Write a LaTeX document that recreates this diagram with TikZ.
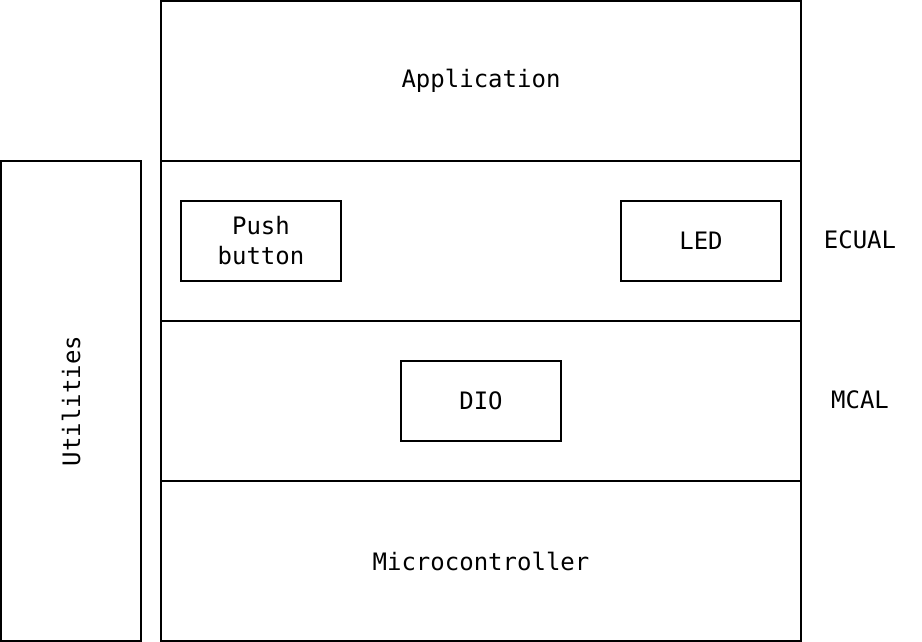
\documentclass[tikz,border=0pt]{standalone}
\usepackage{fontspec}
\setmonofont{DejaVu Sans Mono}
\usepackage{tikz}
\tikzset{
  every node/.style = {font=\ttfamily\fontsize{12}{15}\selectfont, inner sep=0pt, outer sep=0pt},
  layer/.style      = {draw, line width=1pt, minimum width=320pt, minimum height=80pt},
  module/.style     = {draw, line width=1pt, minimum width=80pt, minimum height=40pt, align=center},
  side/.style       = {draw, line width=1pt, minimum width=70pt, minimum height=240pt}
}

\begin{document}
\begin{tikzpicture}[x=0.5pt, y=-0.5pt]
  \useasboundingbox (0,0) rectangle (922,642);
  % layers
  \node[layer] (app)   at (481,81)  {Application};
  \node[layer] (ecual) at (481,241) {};
  \node[layer] (mcal)  at (481,401) {};
  \node[layer] (micro) at (481,561) {Microcontroller};
  \node[side]  (util)  at (71,401)  {};
  \node[rotate=90] (utiltext) at (util.center) {Utilities};
  % modules
  \node[module] (button) at (261,241) {Push\\button};
  \node[module] (led)    at (701,241) {LED};
  \node[module] (dio)    at (481,401) {DIO};
  % layer names
  \node (ecualname) at (860,240) {ECUAL};
  \node (mcalname)  at (860,400) {MCAL};
\end{tikzpicture}
\end{document}
